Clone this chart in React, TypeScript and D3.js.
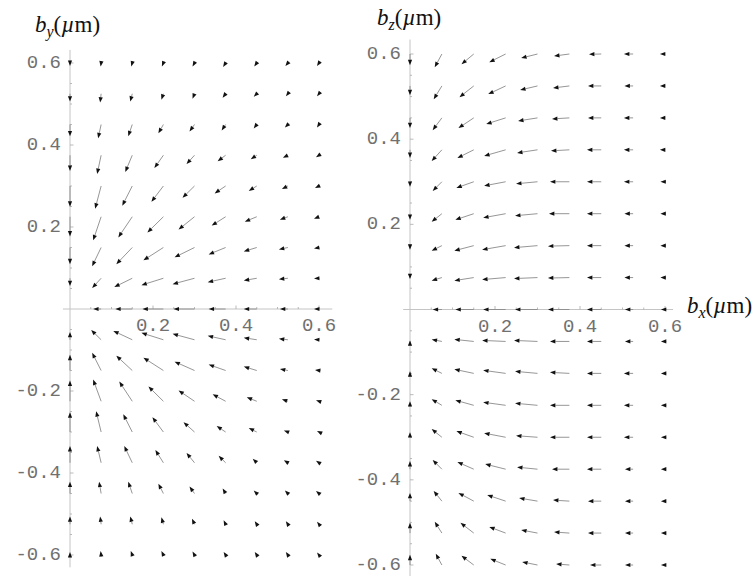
import React from "react";
import * as d3 from "d3";

// Sample grid (µm) shared by both vector-field panels
const GRID_X = [0, 0.075, 0.15, 0.225, 0.3, 0.375, 0.45, 0.525, 0.6];
const GRID_Y = [
  0.6, 0.525, 0.45, 0.375, 0.3, 0.225, 0.15, 0.075, 0,
  -0.075, -0.15, -0.225, -0.3, -0.375, -0.45, -0.525, -0.6,
];

// Tick values
const X_TICKS = [0.2, 0.4, 0.6];
const Y_TICKS = [0.6, 0.4, 0.2, -0.2, -0.4, -0.6];

// Field components (arb. units), one row per GRID_Y value, one column per GRID_X value
// Panel 1: (b_x, b_y) plane
const BY_U = [
  [0, -0.5, -1, -1.5, -2, -2.5, -2.5, -2.5, -2],
  [0, -1, -2, -2, -2, -3, -3, -2, -2],
  [0, -3, -4, -5, -5, -4, -3, -3, -2],
  [0, -4, -7, -9, -8, -8, -6, -5, -3],
  [0, -6, -10, -12, -12, -11, -8, -6, -4],
  [0, -8, -14, -16, -16, -14, -12, -8, -5],
  [0, -9, -16, -20, -20, -17, -13, -9, -5],
  [0, -9, -18, -22, -22, -18, -13, -9, -5],
  [0, -8, -17, -21, -21, -17, -13, -8, -5],
  [0, -10, -19, -22, -22, -18, -13, -9, -5],
  [0, -9, -16, -20, -20, -17, -13, -8, -4],
  [0, -8, -13, -15, -16, -13, -10, -6, -3],
  [0, -5, -9, -11, -11, -9, -8, -4, -2],
  [0, -4, -8, -8, -8, -7, -4, -4, -3],
  [0, -2, -4, -5, -5, -3, -3, -3, -3],
  [0, -1, -2, -2, -2.5, -2, -2, -2, -2],
  [0, -0.5, -1.5, -2, -2, -2, -2, -2, -2],
];
const BY_V = [
  [-3, -3.5, -3.5, -3.5, -3.5, -4, -3.5, -3, -3],
  [-8, -9, -8, -6, -5, -4, -3, -2.5, -2.5],
  [-12, -14, -12, -9, -7, -6, -4, -3, -3],
  [-16, -19, -17, -13, -9, -6, -4, -2.5, -2],
  [-21, -23, -20, -16, -12, -7.5, -5, -3, -2],
  [-20, -24, -21, -16, -13, -9, -5, -3, -2],
  [-17, -19, -17, -13, -10, -7, -4, -2, -1],
  [-8, -10, -9, -7, -6, -4, -2.3, -1, -0.3],
  [0, 0, 0, 0, 0, 0, 0, 0, 0],
  [8, 10, 9, 7, 6, 4, 2, 1, 0.3],
  [16, 18, 15, 13, 9, 6, 4, 1.5, 0.5],
  [21, 22, 20, 15, 11, 7, 4, 2, 1],
  [20, 21, 18, 15, 10, 6, 4, 1.5, 1],
  [17, 17, 17, 13, 10, 7, 4, 2.5, 2],
  [12, 12, 12, 10, 7, 5, 3, 3, 2.5],
  [8, 8, 8, 7, 5.5, 4, 3, 3, 2.5],
  [3, 4, 4, 4, 3.5, 3, 3, 3, 2.5],
];

// Panel 2: (b_x, b_z) plane
const BZ_U = [
  [0, -7, -12, -16, -16, -15, -12, -9, -5],
  [0, -8, -14, -17, -17, -16, -13, -8.5, -5],
  [0, -9, -15, -19, -19, -17, -13, -9, -5],
  [0, -10, -16, -21, -20, -18, -14, -9, -5],
  [0, -9, -17, -21, -21, -19, -14, -9, -4.5],
  [0, -10, -18, -22, -22, -20, -14, -8.5, -4.5],
  [0, -10, -19, -23, -23, -21, -14, -8.5, -4.5],
  [0, -10, -19, -23, -23, -21, -14, -8.5, -4.5],
  [0, -9, -18, -22, -22, -21, -14, -8, -4],
  [0, -10, -19, -23, -23, -19, -14, -8, -4],
  [0, -10, -19, -22, -22, -19, -14, -9, -4],
  [0, -10, -18, -22, -22, -19, -14, -9, -4],
  [0, -10, -17, -21, -21, -19, -14, -9, -4],
  [0, -9, -16, -20, -20, -17, -14, -8, -4],
  [0, -8, -15, -18, -18, -16, -13, -8, -4],
  [0, -7, -13, -16, -16, -15, -13, -8, -4],
  [0, -6, -12, -15, -15, -13, -11, -8, -4],
];
const BZ_V = [
  [-11, -13, -10, -8, -4, -2, -0.3, 0, 0],
  [-9, -13, -11, -8, -4, -2, 0, 0, 0],
  [-10, -12, -10, -6, -3, -1, 0, 0, 0],
  [-8, -11, -8, -6, -3, -1, 0, 0, 0],
  [-5, -9, -6, -4, -2, 0, 0, 0, 0],
  [-6, -8, -6, -4, -2, 0, 0, 0, 0],
  [-4, -5, -5, -4, -2, -0.5, 0, 0, 0],
  [-1.5, -3, -3, -2, -1, -0.5, 0, 0, 0],
  [0, 0, 0, 0, 0, 0, 0, 0, 0],
  [1, 2, 2, 1, 1, 0, 0, 0, 0],
  [2, 5, 4, 3, 2, 1, 0, 0, 0],
  [4, 6, 5, 3, 2, 0, 0, 0, 0],
  [5, 8, 6, 4, 1.5, 0, 0, 0, 0],
  [8, 9, 7, 5, 2, 0, 0, 0, 0],
  [8, 10, 8, 6, 3, 1, 0, 0, 0],
  [10, 11, 10, 6, 3, 1, 0, 0, 0],
  [10, 11, 9, 6, 3, 1, 0, 0, 0],
];

// Arrow length in µm per field unit
const ARROW_LEN = 0.0024;

const MONO = "'Liberation Mono', 'Courier New', monospace";
const SERIF = "'Liberation Serif', 'Times New Roman', serif";
const AXIS_COLOR = "#c4c4c4";
const TICK_TEXT = "#707070";

type Scale = d3.ScaleLinear<number, number>;

function Arrow({ x1, y1, x2, y2 }: { x1: number; y1: number; x2: number; y2: number }) {
  const dx = x2 - x1;
  const dy = y2 - y1;
  const len = Math.hypot(dx, dy);
  if (len < 1e-6) return null;
  const ux = dx / len;
  const uy = dy / len;
  const hl = 5.4;
  const hw = 2.1;
  const bx = x2 - ux * hl;
  const by = y2 - uy * hl;
  const p = [
    [x2, y2],
    [bx - uy * hw, by + ux * hw],
    [bx + uy * hw, by - ux * hw],
  ];
  return (
    <g>
      <line x1={x1} y1={y1} x2={bx} y2={by} stroke="#8a8a8a" strokeWidth={0.9} />
      <polygon points={p.map((q) => q.join(",")).join(" ")} fill="#111" />
    </g>
  );
}

function AxisLabel({ x, y, sub }: { x: number; y: number; sub: string }) {
  return (
    <text x={x} y={y} fontFamily={SERIF} fontSize={23} fill="#111">
      <tspan fontStyle="italic">b</tspan>
      <tspan fontStyle="italic" fontSize={16} dy={5}>
        {sub}
      </tspan>
      <tspan dy={-5}>(</tspan>
      <tspan fontStyle="italic">µ</tspan>
      <tspan>m)</tspan>
    </text>
  );
}

function Panel({
  xs,
  ys,
  U,
  V,
  xAxisExt,
  yAxisExt,
}: {
  xs: Scale;
  ys: Scale;
  U: number[][];
  V: number[][];
  xAxisExt: [number, number];
  yAxisExt: [number, number];
}) {
  const x0 = xs(0);
  const y0 = ys(0);
  const minorX = d3.range(0.05, 0.61, 0.05);
  const minorY = d3.range(-0.6, 0.61, 0.05).filter((v) => Math.abs(v) > 1e-9);
  const fmt = (v: number) => (v < 0 ? "-" : "") + Math.abs(v).toFixed(1);
  return (
    <g>
      {/* axes */}
      <line x1={xs(xAxisExt[0])} x2={xs(xAxisExt[1])} y1={y0} y2={y0} stroke={AXIS_COLOR} strokeWidth={1} />
      <line x1={x0} x2={x0} y1={ys(yAxisExt[1])} y2={ys(yAxisExt[0])} stroke={AXIS_COLOR} strokeWidth={1} />
      {minorX.map((v, i) => {
        const major = Math.abs(v * 5 - Math.round(v * 5)) < 1e-6;
        return (
          <line key={"mx" + i} x1={xs(v)} x2={xs(v)} y1={y0} y2={y0 - (major ? 3.5 : 2)} stroke="#aaa" strokeWidth={0.8} />
        );
      })}
      {minorY.map((v, i) => {
        const major = Math.abs(v * 5 - Math.round(v * 5)) < 1e-6;
        return (
          <line key={"my" + i} x1={x0} x2={x0 + (major ? 3.5 : 2)} y1={ys(v)} y2={ys(v)} stroke="#aaa" strokeWidth={0.8} />
        );
      })}
      {X_TICKS.map((v) => (
        <text key={"xt" + v} x={xs(v)} y={y0 + 17} textAnchor="middle" dominantBaseline="central" fontFamily={MONO} fontSize={19} fill={TICK_TEXT}>
          {fmt(v)}
        </text>
      ))}
      {Y_TICKS.map((v) => (
        <text key={"yt" + v} x={x0 - 9} y={ys(v)} textAnchor="end" dominantBaseline="central" fontFamily={MONO} fontSize={19} fill={TICK_TEXT}>
          {fmt(v)}
        </text>
      ))}
      {/* vector field */}
      {GRID_Y.map((gy, r) =>
        GRID_X.map((gx, c) => (
          <Arrow
            key={r + "-" + c}
            x1={xs(gx)}
            y1={ys(gy)}
            x2={xs(gx + U[r][c] * ARROW_LEN)}
            y2={ys(gy + V[r][c] * ARROW_LEN)}
          />
        ))
      )}
    </g>
  );
}

export default function App() {
  const xsL = d3.scaleLinear().domain([0, 0.6]).range([70, 319]);
  const ysL = d3.scaleLinear().domain([-0.6, 0.6]).range([555, 63]);
  const xsR = d3.scaleLinear().domain([0, 0.6]).range([410, 665]);
  const ysR = d3.scaleLinear().domain([-0.6, 0.6]).range([565, 54]);
  return (
    <svg
      width={752}
      height={576}
      viewBox="0 0 752 576"
      style={{ position: "absolute", left: 0, top: 0, background: "#fff" }}
    >
      <rect width={752} height={576} fill="#fff" />
      <Panel xs={xsL} ys={ysL} U={BY_U} V={BY_V} xAxisExt={[-0.017, 0.632]} yAxisExt={[-0.63, 0.632]} />
      <Panel xs={xsR} ys={ysR} U={BZ_U} V={BZ_V} xAxisExt={[-0.016, 0.619]} yAxisExt={[-0.63, 0.634]} />
      <AxisLabel x={35} y={32} sub="y" />
      <AxisLabel x={377} y={25} sub="z" />
      <AxisLabel x={687} y={313} sub="x" />
    </svg>
  );
}
